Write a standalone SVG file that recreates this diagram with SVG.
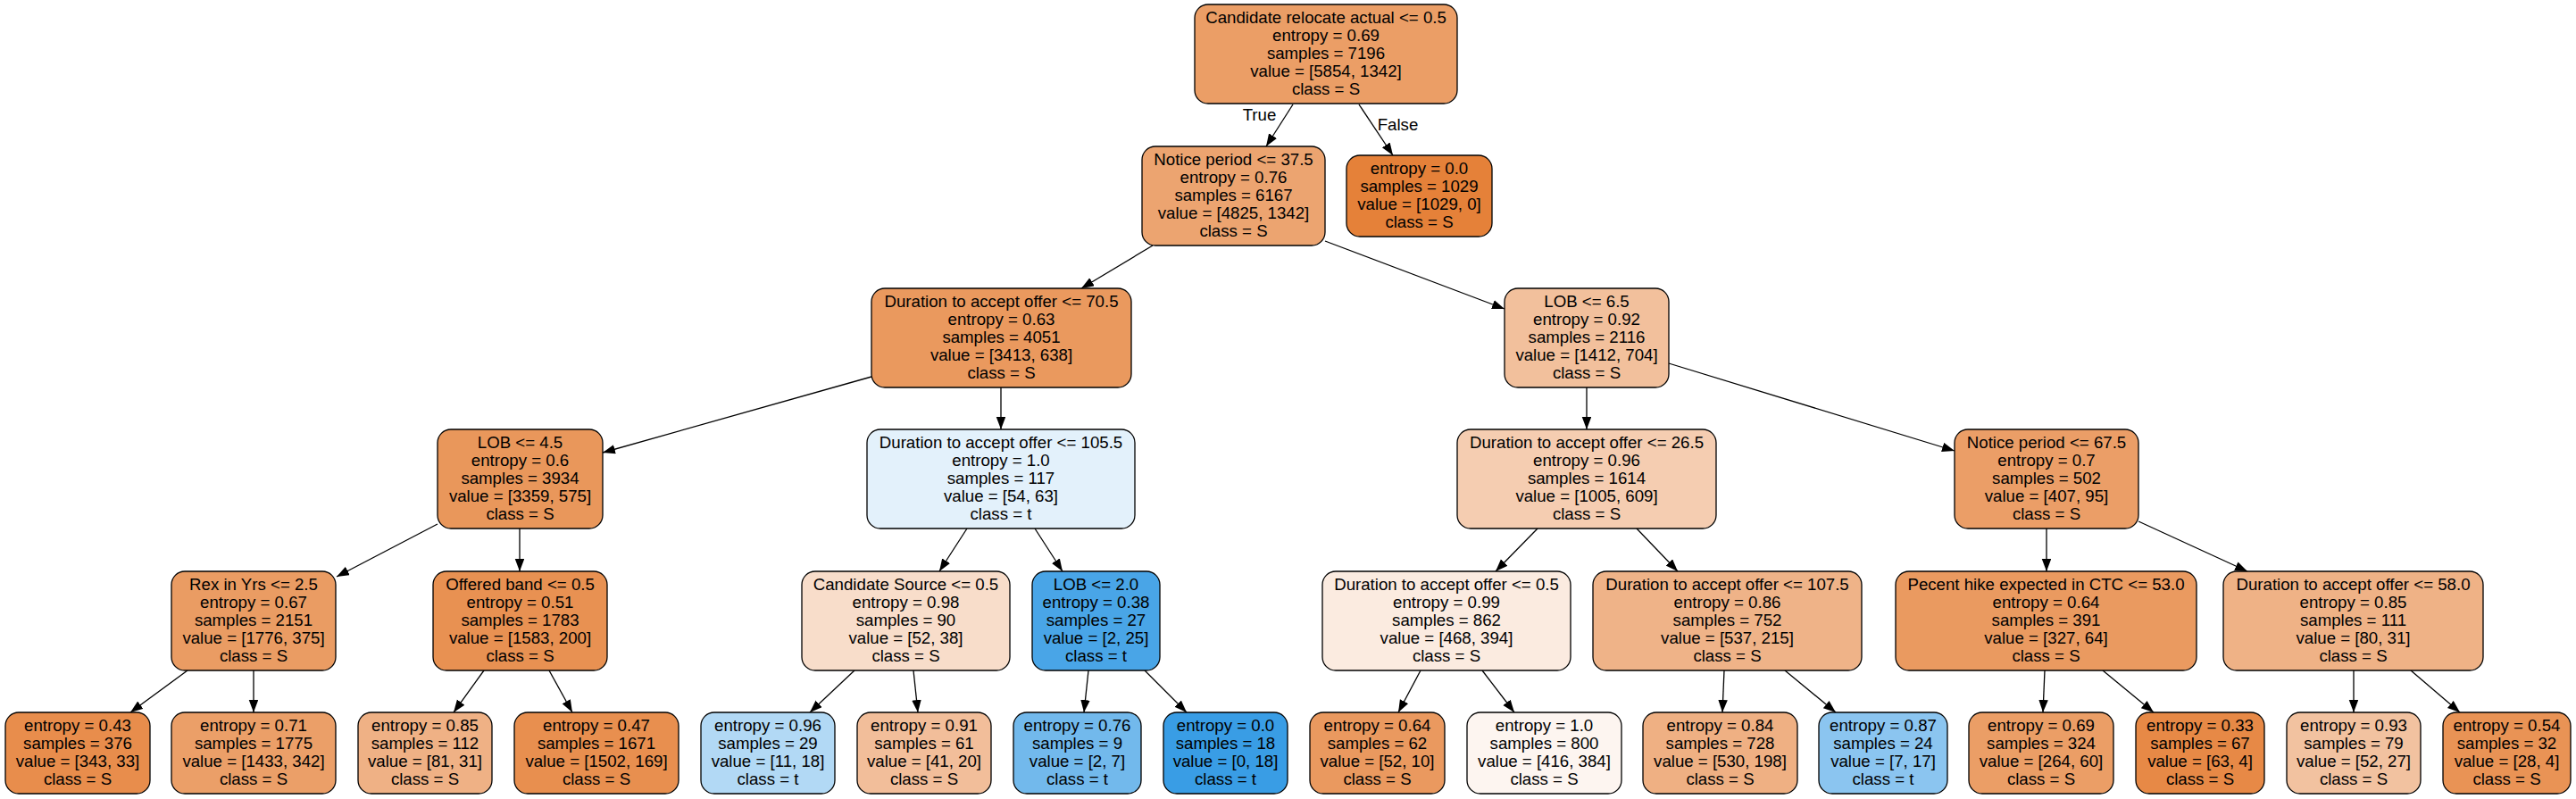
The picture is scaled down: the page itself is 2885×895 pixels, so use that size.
<svg xmlns="http://www.w3.org/2000/svg" width="2885" height="895" viewBox="0 0 2885 895">
<style>
.bg{fill:#ffffff}
.node rect{stroke:#000;stroke-width:1.3}
.node text, .lbl{font-family:"Liberation Sans",Arial,Helvetica,sans-serif;font-size:18.67px;fill:#000;text-anchor:middle}
.edges line{stroke:#000;stroke-width:1.3;fill:none}
</style>
<defs>
<marker id="a" markerUnits="userSpaceOnUse" markerWidth="15" markerHeight="12" refX="14" refY="5.25" orient="auto">
<path d="M0,0 L14,5.25 L0,10.5 z" fill="#000"/>
</marker>
</defs>
<rect class="bg" x="0" y="0" width="2885" height="895"/>
<g class="edges" id="edges">
<line x1="1448" y1="117" x2="1418" y2="164" marker-end="url(#a)"/>
<line x1="1522" y1="117" x2="1560" y2="174" marker-end="url(#a)"/>
<line x1="1291" y1="275" x2="1211" y2="323" marker-end="url(#a)"/>
<line x1="1484" y1="270" x2="1685" y2="346" marker-end="url(#a)"/>
<line x1="976" y1="422" x2="675" y2="507" marker-end="url(#a)"/>
<line x1="1121" y1="434" x2="1121" y2="481" marker-end="url(#a)"/>
<line x1="1777" y1="434" x2="1777" y2="481" marker-end="url(#a)"/>
<line x1="1869" y1="407" x2="2189" y2="505" marker-end="url(#a)"/>
<line x1="490" y1="587" x2="377" y2="646" marker-end="url(#a)"/>
<line x1="582" y1="592" x2="582" y2="640" marker-end="url(#a)"/>
<line x1="1083" y1="592" x2="1052" y2="640" marker-end="url(#a)"/>
<line x1="1159" y1="592" x2="1190" y2="640" marker-end="url(#a)"/>
<line x1="1722" y1="592" x2="1675" y2="640" marker-end="url(#a)"/>
<line x1="1833" y1="592" x2="1879" y2="640" marker-end="url(#a)"/>
<line x1="2292" y1="592" x2="2292" y2="640" marker-end="url(#a)"/>
<line x1="2395" y1="584" x2="2517" y2="640" marker-end="url(#a)"/>
<line x1="210" y1="751" x2="146" y2="798" marker-end="url(#a)"/>
<line x1="284" y1="751" x2="284" y2="798" marker-end="url(#a)"/>
<line x1="542" y1="751" x2="508" y2="798" marker-end="url(#a)"/>
<line x1="615" y1="751" x2="641" y2="798" marker-end="url(#a)"/>
<line x1="957" y1="751" x2="907" y2="798" marker-end="url(#a)"/>
<line x1="1023" y1="751" x2="1028" y2="798" marker-end="url(#a)"/>
<line x1="1219" y1="751" x2="1214" y2="798" marker-end="url(#a)"/>
<line x1="1282" y1="751" x2="1329" y2="798" marker-end="url(#a)"/>
<line x1="1591" y1="751" x2="1566" y2="798" marker-end="url(#a)"/>
<line x1="1660" y1="751" x2="1696" y2="798" marker-end="url(#a)"/>
<line x1="1931" y1="751" x2="1929" y2="798" marker-end="url(#a)"/>
<line x1="1999" y1="751" x2="2056" y2="798" marker-end="url(#a)"/>
<line x1="2290" y1="751" x2="2288" y2="798" marker-end="url(#a)"/>
<line x1="2355" y1="751" x2="2412" y2="798" marker-end="url(#a)"/>
<line x1="2636" y1="751" x2="2636" y2="798" marker-end="url(#a)"/>
<line x1="2700" y1="751" x2="2755" y2="798" marker-end="url(#a)"/>
<text class="lbl" x="1410.5" y="135">True</text>
<text class="lbl" x="1565.5" y="146">False</text>
</g>

<g class="node" id="n0"><rect x="1338" y="5" width="294" height="111" rx="15" fill="#eb9e66"/>
<text><tspan x="1485" y="26">Candidate relocate actual &lt;= 0.5</tspan><tspan x="1485" y="46">entropy = 0.69</tspan><tspan x="1485" y="66">samples = 7196</tspan><tspan x="1485" y="86">value = [5854, 1342]</tspan><tspan x="1485" y="106">class = S</tspan></text></g>

<g class="node" id="n1"><rect x="1279" y="164" width="205" height="111" rx="15" fill="#eca470"/>
<text><tspan x="1381.5" y="185">Notice period &lt;= 37.5</tspan><tspan x="1381.5" y="205">entropy = 0.76</tspan><tspan x="1381.5" y="225">samples = 6167</tspan><tspan x="1381.5" y="245">value = [4825, 1342]</tspan><tspan x="1381.5" y="265">class = S</tspan></text></g>

<g class="node" id="n2"><rect x="1508" y="174" width="163" height="91" rx="15" fill="#e58139"/>
<text><tspan x="1589.5" y="195">entropy = 0.0</tspan><tspan x="1589.5" y="215">samples = 1029</tspan><tspan x="1589.5" y="235">value = [1029, 0]</tspan><tspan x="1589.5" y="255">class = S</tspan></text></g>

<g class="node" id="n3"><rect x="976" y="323" width="291" height="111" rx="15" fill="#ea995e"/>
<text><tspan x="1121.5" y="344">Duration to accept offer &lt;= 70.5</tspan><tspan x="1121.5" y="364">entropy = 0.63</tspan><tspan x="1121.5" y="384">samples = 4051</tspan><tspan x="1121.5" y="404">value = [3413, 638]</tspan><tspan x="1121.5" y="424">class = S</tspan></text></g>

<g class="node" id="n4"><rect x="1685" y="323" width="184" height="111" rx="15" fill="#f2c09c"/>
<text><tspan x="1777" y="344">LOB &lt;= 6.5</tspan><tspan x="1777" y="364">entropy = 0.92</tspan><tspan x="1777" y="384">samples = 2116</tspan><tspan x="1777" y="404">value = [1412, 704]</tspan><tspan x="1777" y="424">class = S</tspan></text></g>

<g class="node" id="n5"><rect x="490" y="481" width="185" height="111" rx="15" fill="#e9975b"/>
<text><tspan x="582.5" y="502">LOB &lt;= 4.5</tspan><tspan x="582.5" y="522">entropy = 0.6</tspan><tspan x="582.5" y="542">samples = 3934</tspan><tspan x="582.5" y="562">value = [3359, 575]</tspan><tspan x="582.5" y="582">class = S</tspan></text></g>

<g class="node" id="n6"><rect x="971" y="481" width="300" height="111" rx="15" fill="#e3f1fb"/>
<text><tspan x="1121" y="502">Duration to accept offer &lt;= 105.5</tspan><tspan x="1121" y="522">entropy = 1.0</tspan><tspan x="1121" y="542">samples = 117</tspan><tspan x="1121" y="562">value = [54, 63]</tspan><tspan x="1121" y="582">class = t</tspan></text></g>

<g class="node" id="n7"><rect x="1632" y="481" width="290" height="111" rx="15" fill="#f5cdb1"/>
<text><tspan x="1777" y="502">Duration to accept offer &lt;= 26.5</tspan><tspan x="1777" y="522">entropy = 0.96</tspan><tspan x="1777" y="542">samples = 1614</tspan><tspan x="1777" y="562">value = [1005, 609]</tspan><tspan x="1777" y="582">class = S</tspan></text></g>

<g class="node" id="n8"><rect x="2189" y="481" width="206" height="111" rx="15" fill="#eb9e67"/>
<text><tspan x="2292" y="502">Notice period &lt;= 67.5</tspan><tspan x="2292" y="522">entropy = 0.7</tspan><tspan x="2292" y="542">samples = 502</tspan><tspan x="2292" y="562">value = [407, 95]</tspan><tspan x="2292" y="582">class = S</tspan></text></g>

<g class="node" id="n9"><rect x="192" y="640" width="184" height="111" rx="15" fill="#ea9c63"/>
<text><tspan x="284" y="661">Rex in Yrs &lt;= 2.5</tspan><tspan x="284" y="681">entropy = 0.67</tspan><tspan x="284" y="701">samples = 2151</tspan><tspan x="284" y="721">value = [1776, 375]</tspan><tspan x="284" y="741">class = S</tspan></text></g>

<g class="node" id="n10"><rect x="485" y="640" width="195" height="111" rx="15" fill="#e89152"/>
<text><tspan x="582.5" y="661">Offered band &lt;= 0.5</tspan><tspan x="582.5" y="681">entropy = 0.51</tspan><tspan x="582.5" y="701">samples = 1783</tspan><tspan x="582.5" y="721">value = [1583, 200]</tspan><tspan x="582.5" y="741">class = S</tspan></text></g>

<g class="node" id="n11"><rect x="898" y="640" width="233" height="111" rx="15" fill="#f8ddca"/>
<text><tspan x="1014.5" y="661">Candidate Source &lt;= 0.5</tspan><tspan x="1014.5" y="681">entropy = 0.98</tspan><tspan x="1014.5" y="701">samples = 90</tspan><tspan x="1014.5" y="721">value = [52, 38]</tspan><tspan x="1014.5" y="741">class = S</tspan></text></g>

<g class="node" id="n12"><rect x="1156" y="640" width="143" height="111" rx="15" fill="#49a5e7"/>
<text><tspan x="1227.5" y="661">LOB &lt;= 2.0</tspan><tspan x="1227.5" y="681">entropy = 0.38</tspan><tspan x="1227.5" y="701">samples = 27</tspan><tspan x="1227.5" y="721">value = [2, 25]</tspan><tspan x="1227.5" y="741">class = t</tspan></text></g>

<g class="node" id="n13"><rect x="1481" y="640" width="278" height="111" rx="15" fill="#fbebe0"/>
<text><tspan x="1620" y="661">Duration to accept offer &lt;= 0.5</tspan><tspan x="1620" y="681">entropy = 0.99</tspan><tspan x="1620" y="701">samples = 862</tspan><tspan x="1620" y="721">value = [468, 394]</tspan><tspan x="1620" y="741">class = S</tspan></text></g>

<g class="node" id="n14"><rect x="1784" y="640" width="301" height="111" rx="15" fill="#efb388"/>
<text><tspan x="1934.5" y="661">Duration to accept offer &lt;= 107.5</tspan><tspan x="1934.5" y="681">entropy = 0.86</tspan><tspan x="1934.5" y="701">samples = 752</tspan><tspan x="1934.5" y="721">value = [537, 215]</tspan><tspan x="1934.5" y="741">class = S</tspan></text></g>

<g class="node" id="n15"><rect x="2123" y="640" width="337" height="111" rx="15" fill="#ea9a60"/>
<text><tspan x="2291.5" y="661">Pecent hike expected in CTC &lt;= 53.0</tspan><tspan x="2291.5" y="681">entropy = 0.64</tspan><tspan x="2291.5" y="701">samples = 391</tspan><tspan x="2291.5" y="721">value = [327, 64]</tspan><tspan x="2291.5" y="741">class = S</tspan></text></g>

<g class="node" id="n16"><rect x="2490" y="640" width="291" height="111" rx="15" fill="#efb286"/>
<text><tspan x="2635.5" y="661">Duration to accept offer &lt;= 58.0</tspan><tspan x="2635.5" y="681">entropy = 0.85</tspan><tspan x="2635.5" y="701">samples = 111</tspan><tspan x="2635.5" y="721">value = [80, 31]</tspan><tspan x="2635.5" y="741">class = S</tspan></text></g>

<g class="node" id="l1"><rect x="6" y="798" width="162" height="91" rx="15" fill="#e88d4c"/>
<text><tspan x="87" y="819">entropy = 0.43</tspan><tspan x="87" y="839">samples = 376</tspan><tspan x="87" y="859">value = [343, 33]</tspan><tspan x="87" y="879">class = S</tspan></text></g>

<g class="node" id="l2"><rect x="192" y="798" width="184" height="91" rx="15" fill="#eb9f68"/>
<text><tspan x="284" y="819">entropy = 0.71</tspan><tspan x="284" y="839">samples = 1775</tspan><tspan x="284" y="859">value = [1433, 342]</tspan><tspan x="284" y="879">class = S</tspan></text></g>

<g class="node" id="l3"><rect x="401" y="798" width="150" height="91" rx="15" fill="#efb185"/>
<text><tspan x="476" y="819">entropy = 0.85</tspan><tspan x="476" y="839">samples = 112</tspan><tspan x="476" y="859">value = [81, 31]</tspan><tspan x="476" y="879">class = S</tspan></text></g>

<g class="node" id="l4"><rect x="576" y="798" width="184" height="91" rx="15" fill="#e88f4f"/>
<text><tspan x="668" y="819">entropy = 0.47</tspan><tspan x="668" y="839">samples = 1671</tspan><tspan x="668" y="859">value = [1502, 169]</tspan><tspan x="668" y="879">class = S</tspan></text></g>

<g class="node" id="l5"><rect x="785" y="798" width="150" height="91" rx="15" fill="#b2d9f5"/>
<text><tspan x="860" y="819">entropy = 0.96</tspan><tspan x="860" y="839">samples = 29</tspan><tspan x="860" y="859">value = [11, 18]</tspan><tspan x="860" y="879">class = t</tspan></text></g>

<g class="node" id="l6"><rect x="960" y="798" width="150" height="91" rx="15" fill="#f2be9a"/>
<text><tspan x="1035" y="819">entropy = 0.91</tspan><tspan x="1035" y="839">samples = 61</tspan><tspan x="1035" y="859">value = [41, 20]</tspan><tspan x="1035" y="879">class = S</tspan></text></g>

<g class="node" id="l7"><rect x="1135" y="798" width="143" height="91" rx="15" fill="#72b9ec"/>
<text><tspan x="1206.5" y="819">entropy = 0.76</tspan><tspan x="1206.5" y="839">samples = 9</tspan><tspan x="1206.5" y="859">value = [2, 7]</tspan><tspan x="1206.5" y="879">class = t</tspan></text></g>

<g class="node" id="l8"><rect x="1303" y="798" width="139" height="91" rx="15" fill="#399de5"/>
<text><tspan x="1372.5" y="819">entropy = 0.0</tspan><tspan x="1372.5" y="839">samples = 18</tspan><tspan x="1372.5" y="859">value = [0, 18]</tspan><tspan x="1372.5" y="879">class = t</tspan></text></g>

<g class="node" id="l9"><rect x="1467" y="798" width="151" height="91" rx="15" fill="#ea995f"/>
<text><tspan x="1542.5" y="819">entropy = 0.64</tspan><tspan x="1542.5" y="839">samples = 62</tspan><tspan x="1542.5" y="859">value = [52, 10]</tspan><tspan x="1542.5" y="879">class = S</tspan></text></g>

<g class="node" id="l10"><rect x="1643" y="798" width="173" height="91" rx="15" fill="#fdf5f0"/>
<text><tspan x="1729.5" y="819">entropy = 1.0</tspan><tspan x="1729.5" y="839">samples = 800</tspan><tspan x="1729.5" y="859">value = [416, 384]</tspan><tspan x="1729.5" y="879">class = S</tspan></text></g>

<g class="node" id="l11"><rect x="1840" y="798" width="173" height="91" rx="15" fill="#efb083"/>
<text><tspan x="1926.5" y="819">entropy = 0.84</tspan><tspan x="1926.5" y="839">samples = 728</tspan><tspan x="1926.5" y="859">value = [530, 198]</tspan><tspan x="1926.5" y="879">class = S</tspan></text></g>

<g class="node" id="l12"><rect x="2037" y="798" width="144" height="91" rx="15" fill="#8bc5f0"/>
<text><tspan x="2109" y="819">entropy = 0.87</tspan><tspan x="2109" y="839">samples = 24</tspan><tspan x="2109" y="859">value = [7, 17]</tspan><tspan x="2109" y="879">class = t</tspan></text></g>

<g class="node" id="l13"><rect x="2205" y="798" width="162" height="91" rx="15" fill="#eb9e66"/>
<text><tspan x="2286" y="819">entropy = 0.69</tspan><tspan x="2286" y="839">samples = 324</tspan><tspan x="2286" y="859">value = [264, 60]</tspan><tspan x="2286" y="879">class = S</tspan></text></g>

<g class="node" id="l14"><rect x="2392" y="798" width="144" height="91" rx="15" fill="#e78946"/>
<text><tspan x="2464" y="819">entropy = 0.33</tspan><tspan x="2464" y="839">samples = 67</tspan><tspan x="2464" y="859">value = [63, 4]</tspan><tspan x="2464" y="879">class = S</tspan></text></g>

<g class="node" id="l15"><rect x="2561" y="798" width="150" height="91" rx="15" fill="#f2c2a0"/>
<text><tspan x="2636" y="819">entropy = 0.93</tspan><tspan x="2636" y="839">samples = 79</tspan><tspan x="2636" y="859">value = [52, 27]</tspan><tspan x="2636" y="879">class = S</tspan></text></g>

<g class="node" id="l16"><rect x="2736" y="798" width="143" height="91" rx="15" fill="#e99355"/>
<text><tspan x="2807.5" y="819">entropy = 0.54</tspan><tspan x="2807.5" y="839">samples = 32</tspan><tspan x="2807.5" y="859">value = [28, 4]</tspan><tspan x="2807.5" y="879">class = S</tspan></text></g>
</svg>
